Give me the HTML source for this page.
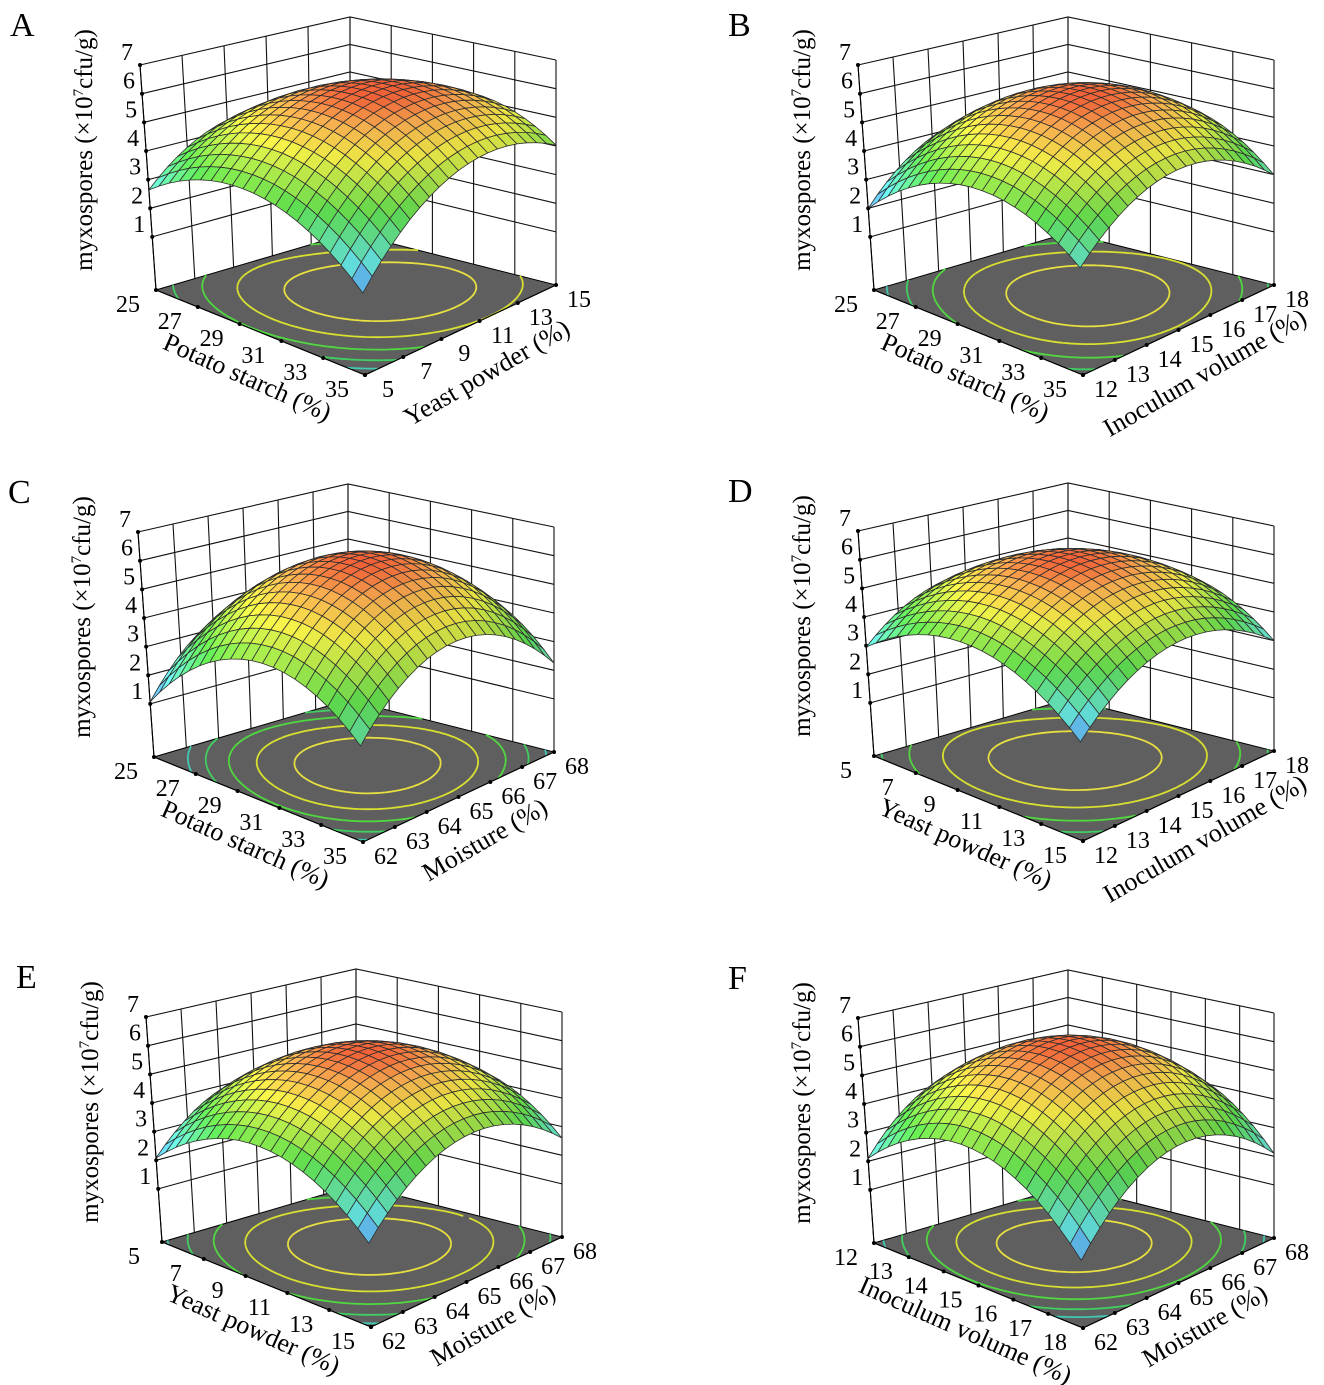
<!DOCTYPE html>
<html><head><meta charset="utf-8">
<style>
html,body{margin:0;padding:0;background:#fff;}
svg{display:block;font-family:"Liberation Serif",serif;}
</style></head>
<body>
<svg id="chart" width="1324" height="1385" viewBox="0 0 1324 1385" xmlns="http://www.w3.org/2000/svg"></svg>
<script>
const panelLetters = ['A','B','C','D','E','F'];
const uTitles = ['Potato starch (%)','Potato starch (%)','Potato starch (%)','Yeast powder (%)','Yeast powder (%)','Inoculum volume (%)'];
const vTitles = ['Yeast powder (%)','Inoculum volume (%)','Moisture (%)','Inoculum volume (%)','Moisture (%)','Moisture (%)'];
const uTicks = [[25,27,29,31,33,35],[25,27,29,31,33,35],[25,27,29,31,33,35],[5,7,9,11,13,15],[5,7,9,11,13,15],[12,13,14,15,16,17,18]];
const vTicks = [[5,7,9,11,13,15],[12,13,14,15,16,17,18],[62,63,64,65,66,67,68],[12,13,14,15,16,17,18],[62,63,64,65,66,67,68],[62,63,64,65,66,67,68]];
const zTicks = [1,2,3,4,5,6,7];
// surface values read at the four floor corners and at the centre
const cornerLeft  = [2.64, 2.0, 1.07, 2.95, 2.08, 2.1];
const cornerFront = [1.92, 2.77, 2.4, 2.5, 1.98, 1.43];
const cornerRight = [4.03, 2.99, 2.25, 3.0, 2.6, 2.1];
const cornerBack  = [3.0, 3.0, 2.0, 3.0, 2.5, 2.5];
const peakValue   = [6.2, 6.2, 6.3, 6.2, 6.0, 6.2];

const NS='http://www.w3.org/2000/svg';
const svg=document.getElementById('chart');
const origins=[[156,290],[874,290],[154,757],[874,756],[162,1242],[874,1243]];
const FLO={L:[0,0],F:[209,85],R:[400,-5],B:[194,-57]};
const TOP={L:[-16,-225],F:[203,-147],R:[400,-230],B:[194,-273]};
const W1=0.236, WS=0.1273;
function mk(tag,attrs,parent){const e=document.createElementNS(NS,tag);for(const k in attrs)e.setAttribute(k,attrs[k]);(parent||svg).appendChild(e);return e;}
function bil(C,u,v){const a=(1-u)*(1-v),b=u*(1-v),c=u*v,d=(1-u)*v;
 return [a*C.L[0]+b*C.F[0]+c*C.R[0]+d*C.B[0], a*C.L[1]+b*C.F[1]+c*C.R[1]+d*C.B[1]];}
function zw(z){return W1+(z-1)*WS;}
function proj(o,u,v,w){const f=bil(FLO,u,v),t=bil(TOP,u,v);return [o[0]+f[0]+(t[0]-f[0])*w,o[1]+f[1]+(t[1]-f[1])*w];}
function model(i){const L=cornerLeft[i],F=cornerFront[i],R=cornerRight[i],B=cornerBack[i],c=peakValue[i];
 const m=(L+F+R+B)/4,b=(m-c)/2,a1=(F+R-L-B)/4,a2=(R+B-L-F)/4,b12=(L+R-F-B)/4;
 return (u,v)=>{const x=2*u-1,y=2*v-1;return c+a1*x+a2*y+b*x*x+b*y*y+b12*x*y;};}
const stops=[[0,[70,120,255]],[0.15,[80,235,245]],[0.45,[70,225,50]],[0.74,[245,240,40]],[0.9,[250,160,50]],[1,[240,70,20]]];
function cmap(t,s,wh){t=Math.max(0,Math.min(1,t));let i=0;while(i<stops.length-2&&t>stops[i+1][0])i++;
 const a=stops[i],b=stops[i+1],f=(t-a[0])/(b[0]-a[0]);wh=wh===undefined?0.15:wh;
 const c=a[1].map((x,k)=>x+(b[1][k]-x)*f).map(x=>Math.round(Math.max(0,Math.min(255,(x*(1-wh)+255*wh)*s))));
 return 'rgb('+c.join(',')+')';}
function pts(a){return a.map(p=>p[0].toFixed(1)+','+p[1].toFixed(1)).join(' ');}
const contourColors=['#e8e040','#d8e030','#50d840','#40d060','#40c8b0'];

for(let i=0;i<6;i++){
 const o=origins[i];const f=model(i);
 const g=mk('g',{});
 
 
 const nu=uTicks[i].length-1,nv=vTicks[i].length-1;
 const lt=mk('text',{x:o[0]-146,y:o[1]-254,'font-size':34,fill:'#000'},g);lt.textContent=panelLetters[i];
 
 
 const fl=mk('polygon',{points:pts([proj(o,0,0,0),proj(o,1,0,0),proj(o,1,1,0),proj(o,0,1,0)]),fill:'#5f5f5f',stroke:'#000','stroke-width':1},g);
 
 
 const wall=mk('g',{stroke:'#111','stroke-width':1.1,fill:'none'},g);
 
 
 for(let k=0;k<=nv;k++){const v=k/nv;mk('line',{x1:proj(o,0,v,0)[0],y1:proj(o,0,v,0)[1],x2:proj(o,0,v,1)[0],y2:proj(o,0,v,1)[1]},wall);}
 for(let k=0;k<=nu;k++){const u=k/nu;mk('line',{x1:proj(o,u,1,0)[0],y1:proj(o,u,1,0)[1],x2:proj(o,u,1,1)[0],y2:proj(o,u,1,1)[1]},wall);}
 zTicks.forEach(z=>{const w=zw(z);mk('polyline',{points:pts([proj(o,0,0,w),proj(o,0,1,w),proj(o,1,1,w)])},wall);});
 zTicks.forEach(z=>{const p=proj(o,0,0,zw(z));mk('circle',{cx:p[0],cy:p[1],r:2,fill:'#000'},g);
  const t=mk('text',{x:p[0]-7,y:p[1]-5,'font-size':24,'text-anchor':'end',fill:'#000'},g);t.textContent=z;
  
  });
 const G=60,levels=[peakValue[i]-0.6,peakValue[i]-1.4,peakValue[i]-2.2,peakValue[i]-3.0,peakValue[i]-3.7];
 const zmin=Math.min(cornerLeft[i],cornerFront[i],cornerRight[i],cornerBack[i]),zmax=peakValue[i];
 const val=[];for(let a=0;a<=G;a++){val.push([]);for(let b=0;b<=G;b++)val[a].push(f(a/G,b/G));}
 levels.forEach((L,li)=>{let d='';
  for(let a=0;a<G;a++)for(let b=0;b<G;b++){
   const c=[[a,b],[a+1,b],[a+1,b+1],[a,b+1]];const cr=[];
   for(let e=0;e<4;e++){const p=c[e],q=c[(e+1)%4];const z1=val[p[0]][p[1]],z2=val[q[0]][q[1]];
    if((z1-L)*(z2-L)<0){const t=(L-z1)/(z2-z1);cr.push([(p[0]+(q[0]-p[0])*t)/G,(p[1]+(q[1]-p[1])*t)/G]);}}
   if(cr.length>=2){const A=proj(o,cr[0][0],cr[0][1],0),B=proj(o,cr[1][0],cr[1][1],0);d+='M'+A[0].toFixed(1)+' '+A[1].toFixed(1)+'L'+B[0].toFixed(1)+' '+B[1].toFixed(1);}
  }
  const ct=mk('path',{d:d,stroke:contourColors[li],'stroke-width':1.8,fill:'none'},g);
  
  });
 uTicks[i].forEach((tv,k)=>{const p=proj(o,k/nu,0,0);mk('circle',{cx:p[0],cy:p[1],r:2,fill:'#000'},g);
  const t=mk('text',{x:p[0]-28,y:p[1]+22,'font-size':24,'text-anchor':'middle',fill:'#000'},g);t.textContent=tv;
  
  });
 vTicks[i].forEach((tv,k)=>{const p=proj(o,1,k/nv,0);mk('circle',{cx:p[0],cy:p[1],r:2,fill:'#000'},g);
  const t=mk('text',{x:p[0]+23,y:p[1]+22,'font-size':24,'text-anchor':'middle',fill:'#000'},g);t.textContent=tv;
  
  });
 const ut=mk('text',{x:0,y:0,'font-size':26,'text-anchor':'middle',fill:'#000',transform:'translate('+(o[0]+88)+','+(o[1]+95)+') rotate(24)'},g);ut.textContent=uTitles[i];
 
 
 const vt=mk('text',{x:0,y:0,'font-size':26,'text-anchor':'middle',fill:'#000',transform:'translate('+(o[0]+335)+','+(o[1]+90)+') rotate(-30)'},g);vt.textContent=vTitles[i];
 
 
 const zt=mk('text',{x:0,y:0,'font-size':25,'text-anchor':'middle',fill:'#000',transform:'translate('+(o[0]-64)+','+(o[1]-140)+') rotate(-90)'},g);
 zt.innerHTML='myxospores (×10<tspan font-size="15" dy="-9">7</tspan><tspan dy="9">cfu/g)</tspan>';
 
 
 const N=20;const quads=[];
 for(let a=0;a<N;a++)for(let b=0;b<N;b++){const u0=a/N,u1=(a+1)/N,v0=b/N,v1=(b+1)/N;
  const zs=[f(u0,v0),f(u1,v0),f(u1,v1),f(u0,v1)];quads.push({u0,u1,v0,v1,zs,key:(u0+u1)/2-(v0+v1)/2});}
 quads.sort((p,q)=>p.key-q.key);
 const sg=mk('g',{stroke:'#2e2e2e','stroke-width':0.8,'stroke-linejoin':'round'},g);
 
 
 quads.forEach(q=>{const P=[proj(o,q.u0,q.v0,zw(q.zs[0])),proj(o,q.u1,q.v0,zw(q.zs[1])),proj(o,q.u1,q.v1,zw(q.zs[2])),proj(o,q.u0,q.v1,zw(q.zs[3]))];
  const zm=(q.zs[0]+q.zs[1]+q.zs[2]+q.zs[3])/4;
  const slope=((q.zs[1]+q.zs[2])-(q.zs[0]+q.zs[3]))/2*N;
  const shade=1+Math.max(-0.15,Math.min(0.06,slope*0.012));
  const el=mk('polygon',{points:pts(P),fill:cmap((zm-zmin)/(zmax-zmin),shade)},sg);
  
  });
 const ed=mk('g',{stroke:'#000','stroke-width':1.1,fill:'none'},g);
 mk('polyline',{points:pts([proj(o,0,0,0),proj(o,1,0,0),proj(o,1,1,0)])},ed);
 mk('line',{x1:proj(o,0,0,0)[0],y1:proj(o,0,0,0)[1],x2:proj(o,0,0,1)[0],y2:proj(o,0,0,1)[1]},ed);
}
</script>
</body></html>
